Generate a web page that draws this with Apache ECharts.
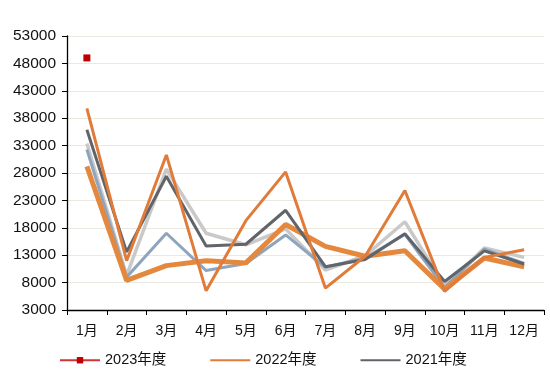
<!DOCTYPE html>
<html><head><meta charset="utf-8">
<script src="https://cdn.jsdelivr.net/npm/echarts@6/dist/echarts.min.js"></script>
<style>html,body{margin:0;padding:0;background:#fff}#c{width:550px;height:377px}</style>
</head><body><div id="c"></div>
<script>
const categories = ['1月','2月','3月','4月','5月','6月','7月','8月','9月','10月','11月','12月'];
const s2023 = [49000, null, null, null, null, null, null, null, null, null, null, null];
const s2022 = [39800, 12000, 31300, 6500, 19300, 28200, 7000, 12800, 24800, 6400, 12600, 14000];
const s2021 = [35900, 13600, 27400, 14700, 15000, 21200, 10900, 12200, 16900, 8200, 13800, 11400];
const sLightGray = [33400, 9300, 28700, 17000, 14900, 17800, 10300, 12900, 19100, 7400, 14300, 12600];
const sBlueGray = [32300, 9000, 17000, 10200, 11500, 16700, 10800, 12500, 16800, 7100, 14100, 11500];
const sThickOrange = [29200, 8400, 11100, 12000, 11600, 18600, 14600, 12800, 13800, 6800, 12500, 10900];
const yTicks = {min: 3000, max: 53000, interval: 5000};

const font = '"Liberation Sans", "Noto Sans CJK SC", sans-serif';
const chart = echarts.init(document.getElementById('c'), null, {renderer: 'canvas'});
chart.setOption({
  animation: false,
  grid: {left: 67, right: 6, top: 36, bottom: 67},
  legend: {
    data: [
      {name: '2023年度'},
      {name: '2022年度', itemStyle: {opacity: 0}},
      {name: '2021年度', itemStyle: {opacity: 0}}
    ],
    left: 54, top: 348, itemWidth: 40, itemHeight: 8, itemGap: 43,
    textStyle: {fontFamily: font, fontSize: 14.5, color: '#111'}
  },
  xAxis: {
    type: 'category', data: categories, boundaryGap: true,
    axisLine: {lineStyle: {color: '#000', width: 1.3}},
    axisTick: {show: true, alignWithLabel: false, length: 5, lineStyle: {color: '#000'}},
    axisLabel: {fontFamily: font, fontSize: 14, color: '#111', margin: 14, interval: 0}
  },
  yAxis: {
    type: 'value', min: yTicks.min, max: yTicks.max, interval: yTicks.interval,
    axisLine: {show: true, lineStyle: {color: '#000', width: 1.3}},
    axisTick: {show: true, length: 5, lineStyle: {color: '#000'}},
    axisLabel: {fontFamily: font, fontSize: 15.5, color: '#111', margin: 11, formatter: v => String(v)},
    splitLine: {lineStyle: {color: '#ebe8e0', width: 1.2}}
  },
  series: [
    {name: '浅灰', type: 'line', data: sLightGray, symbol: 'none', lineStyle: {color: '#c9c9c9', width: 3.5}, z: 2},
    {name: '蓝灰', type: 'line', data: sBlueGray, symbol: 'none', lineStyle: {color: '#8fa5bd', width: 3}, z: 3},
    {name: '橙粗', type: 'line', data: sThickOrange, symbol: 'none', lineStyle: {color: '#e3883d', width: 5}, z: 4},
    {name: '2021年度', type: 'line', data: s2021, symbol: 'none', itemStyle: {color: '#616469'}, lineStyle: {color: '#616469', width: 3}, z: 5},
    {name: '2022年度', type: 'line', data: s2022, symbol: 'none', itemStyle: {color: '#e07b3a'}, lineStyle: {color: '#e07b3a', width: 3}, z: 6},
    {name: '2023年度', type: 'line', data: s2023, symbol: 'rect', symbolSize: 7, showSymbol: true, itemStyle: {color: '#c00000'}, lineStyle: {color: '#d03434', width: 3}, z: 7}
  ]
});
</script></body></html>
